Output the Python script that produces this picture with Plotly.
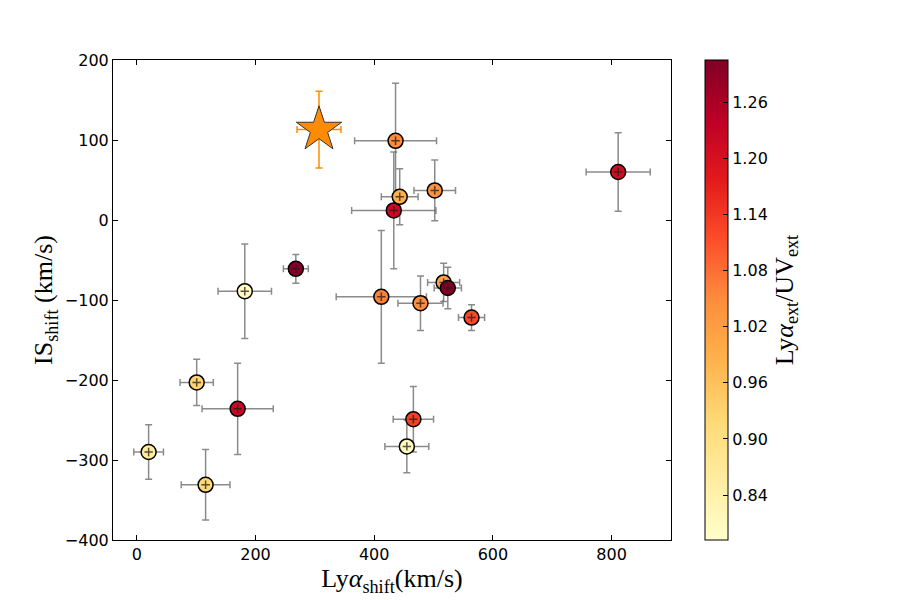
import plotly.graph_objects as go

# Data
lya_shift = [20, 101, 116, 170, 182, 268, 412, 436, 433, 443, 502, 811, 517, 524, 478, 564, 466, 455]
is_shift = [-290, -203, -331, -236, -89, -61, -96, 99, 12, 29, 37, 60, -78, -85, -104, -122, -249, -283]
lya_err = [25, 28, 41, 60, 45, 21, 76, 69, 71, 31, 35, 54, 27, 23, 38, 22, 34, 37]
is_err = [34, 29, 44, 57, 59, 18, 83, 72, 73, 35, 38, 49, 24, 26, 34, 16, 41, 33]
ratio = [0.86, 0.93, 0.92, 1.22, 0.81, 1.30, 1.06, 1.05, 1.22, 0.99, 1.04, 1.21, 1.01, 1.30, 1.05, 1.12, 1.13, 0.81]

star_x = [307]
star_y = [113]
star_xerr = [37]
star_yerr = [48]

cbar_ticks = [0.84, 0.90, 0.96, 1.02, 1.08, 1.14, 1.20, 1.26]
x_ticks = [0, 200, 400, 600, 800]
y_ticks = [-400, -300, -200, -100, 0, 100, 200]

ylorrd = ['#ffffcc', '#ffeda0', '#fed976', '#feb24c', '#fd8d3c',
          '#fc4e2a', '#e31a1c', '#bd0026', '#800026']
cscale = [[i / (len(ylorrd) - 1), c] for i, c in enumerate(ylorrd)]

err_col = 'rgba(100,100,100,0.75)'

fig = go.Figure()

# error bars (under markers)
fig.add_trace(go.Scatter(
    x=lya_shift, y=is_shift, mode='markers',
    marker=dict(size=0.1, color='rgba(0,0,0,0)'),
    error_x=dict(type='data', array=lya_err, color=err_col, thickness=1.5, width=3.5),
    error_y=dict(type='data', array=is_err, color=err_col, thickness=1.5, width=3.5),
    showlegend=False, hoverinfo='skip'))

# coloured circles
fig.add_trace(go.Scatter(
    x=lya_shift, y=is_shift, mode='markers',
    marker=dict(size=15, color=ratio, colorscale=cscale, cmin=0.792, cmax=1.305,
                line=dict(color='black', width=1.5),
                colorbar=dict(
                    x=1.061, xanchor='left', y=0.5, yanchor='middle',
                    len=1.0, lenmode='fraction', thickness=23, xpad=0, ypad=0,
                    outlinecolor='black', outlinewidth=1,
                    ticks='inside', ticklen=5, tickcolor='black',
                    tickvals=cbar_ticks, ticktext=[f'{v:.2f}' for v in cbar_ticks],
                    tickfont=dict(family='DejaVu Sans', size=16, color='black'),
                    title=dict(text='Ly<i>α</i><sub>ext</sub>/UV<sub>ext</sub>', side='right',
                               font=dict(family='Liberation Serif', size=26, color='black')))),
    showlegend=False))

# small centre crosses
fig.add_trace(go.Scatter(
    x=lya_shift, y=is_shift, mode='markers',
    marker=dict(symbol='cross-thin', size=6, line=dict(color='rgba(30,30,30,0.75)', width=1.5)),
    showlegend=False, hoverinfo='skip'))

# star
fig.add_trace(go.Scatter(
    x=star_x, y=star_y, mode='markers',
    marker=dict(symbol='star', size=34, color='#ff8c00', line=dict(color='#333333', width=1)),
    error_x=dict(type='data', array=star_xerr, color='#ff8c00', thickness=1.5, width=3.5),
    error_y=dict(type='data', array=star_yerr, color='#ff8c00', thickness=1.5, width=3.5),
    showlegend=False))

axis_common = dict(showline=True, linecolor='black', linewidth=1, mirror='ticks',
                   ticks='inside', ticklen=5, tickcolor='black', showgrid=False, zeroline=False,
                   tickfont=dict(family='DejaVu Sans', size=16, color='black'))

fig.update_layout(
    width=900, height=600,
    margin=dict(l=113, r=229, t=60, b=60),
    plot_bgcolor='white', paper_bgcolor='white',
    xaxis=dict(range=[-40, 900], tickvals=x_ticks,
               title=dict(text='Ly<i>α</i><sub>shift</sub>(km/s)', standoff=2,
                          font=dict(family='Liberation Serif', size=26, color='black')),
               **axis_common),
    yaxis=dict(range=[-400, 200], tickvals=y_ticks,
               title=dict(text='IS<sub>shift</sub> (km/s)', standoff=4,
                          font=dict(family='Liberation Serif', size=26, color='black')),
               **axis_common),
)

fig.write_html('out.html')
